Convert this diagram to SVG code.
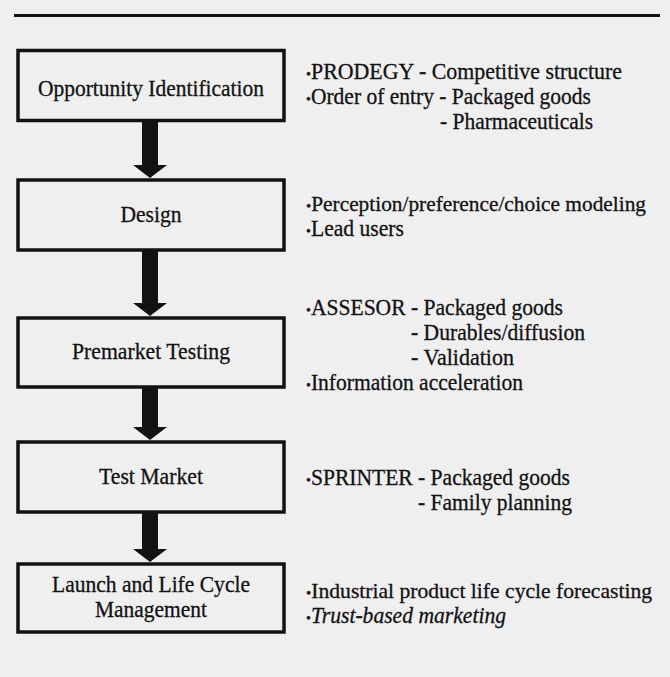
<svg xmlns="http://www.w3.org/2000/svg" width="670" height="677" viewBox="0 0 670 677">
  <style>
    .box { fill: none; stroke: #121212; stroke-width: 3.5; }
    .lbl, .note { font-family: "Liberation Serif", "Times New Roman", serif; font-size: 23px; fill: #121212; stroke: #121212; stroke-width: 0.3; }
    .lbl { text-anchor: middle; }
    .long { font-size: 21.5px; }
    .dot { font-size: 15px; }
    .it { font-style: italic; }
    .arrow { fill: #121212; }
  </style>
  <rect width="670" height="677" fill="#efefef"/>
  <!-- heading rule -->
  <line x1="14" y1="15.5" x2="660" y2="15.5" stroke="#121212" stroke-width="3.2"/>

  <g id="connectors">
    <path class="arrow" d="M142,122 H158 V165 H167 L150,178 L133,165 H142 Z"/>
    <path class="arrow" d="M142,251 H158 V303 H167 L150,316 L133,303 H142 Z"/>
    <path class="arrow" d="M142,388 H158 V427 H167 L150,440 L133,427 H142 Z"/>
    <path class="arrow" d="M142,513 H158 V549 H167 L150,562 L133,549 H142 Z"/>
  </g>

  <g id="opportunity">
    <rect class="box" x="18" y="50.5" width="266" height="70"/>
    <text class="lbl" x="151" y="96" textLength="226" lengthAdjust="spacingAndGlyphs">Opportunity Identification</text>
    <text class="note" x="306" y="79" textLength="316" lengthAdjust="spacingAndGlyphs"><tspan class="dot">•</tspan>PRODEGY - Competitive structure</text>
    <text class="note" x="306" y="104" textLength="285" lengthAdjust="spacingAndGlyphs"><tspan class="dot">•</tspan>Order of entry - Packaged goods</text>
    <text class="note" x="440" y="129" textLength="153" lengthAdjust="spacingAndGlyphs">- Pharmaceuticals</text>
  </g>

  <g id="design">
    <rect class="box" x="18" y="180" width="266" height="70"/>
    <text class="lbl" x="151" y="222" textLength="61" lengthAdjust="spacingAndGlyphs">Design</text>
    <text class="note long" x="306" y="211" textLength="340" lengthAdjust="spacingAndGlyphs"><tspan class="dot">•</tspan>Perception/preference/choice modeling</text>
    <text class="note" x="306" y="236" textLength="98" lengthAdjust="spacingAndGlyphs"><tspan class="dot">•</tspan>Lead users</text>
  </g>

  <g id="premarket">
    <rect class="box" x="18" y="318" width="266" height="69"/>
    <text class="lbl" x="151" y="359" textLength="158" lengthAdjust="spacingAndGlyphs">Premarket Testing</text>
    <text class="note" x="306" y="315" textLength="257" lengthAdjust="spacingAndGlyphs"><tspan class="dot">•</tspan>ASSESOR - Packaged goods</text>
    <text class="note" x="411" y="340" textLength="174" lengthAdjust="spacingAndGlyphs">- Durables/diffusion</text>
    <text class="note" x="411" y="365" textLength="103" lengthAdjust="spacingAndGlyphs">- Validation</text>
    <text class="note" x="306" y="390" textLength="217" lengthAdjust="spacingAndGlyphs"><tspan class="dot">•</tspan>Information acceleration</text>
  </g>

  <g id="test-market">
    <rect class="box" x="18" y="442" width="266" height="70"/>
    <text class="lbl" x="151" y="484" textLength="104" lengthAdjust="spacingAndGlyphs">Test Market</text>
    <text class="note" x="306" y="485" textLength="264" lengthAdjust="spacingAndGlyphs"><tspan class="dot">•</tspan>SPRINTER - Packaged goods</text>
    <text class="note" x="418" y="510" textLength="154" lengthAdjust="spacingAndGlyphs">- Family planning</text>
  </g>

  <g id="launch">
    <rect class="box" x="18" y="564" width="266" height="68"/>
    <text class="lbl" x="151" y="592" textLength="198" lengthAdjust="spacingAndGlyphs">Launch and Life Cycle</text>
    <text class="lbl" x="151" y="617" textLength="112" lengthAdjust="spacingAndGlyphs">Management</text>
    <text class="note long" x="306" y="598" textLength="346" lengthAdjust="spacingAndGlyphs"><tspan class="dot">•</tspan>Industrial product life cycle forecasting</text>
    <text class="note" x="306" y="623" textLength="200" lengthAdjust="spacingAndGlyphs"><tspan class="dot">•</tspan><tspan class="it">Trust-based marketing</tspan></text>
  </g>
</svg>
